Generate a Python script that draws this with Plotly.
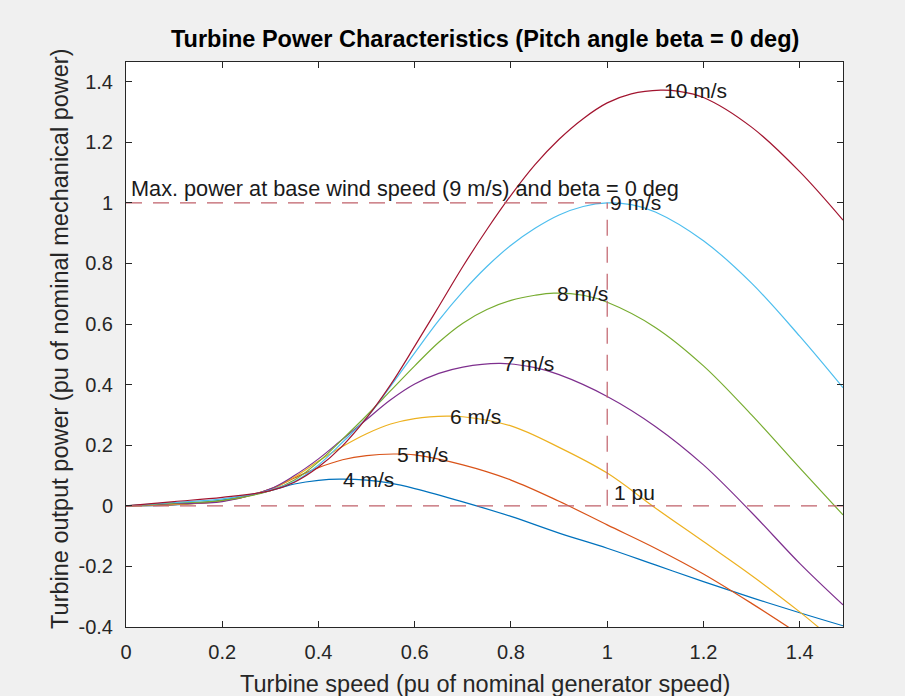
import numpy as np
import plotly.graph_objects as go

# Turbine output power (pu) versus turbine speed (pu), pitch angle beta = 0 deg
wind_labels = ["4 m/s", "5 m/s", "6 m/s", "7 m/s", "8 m/s", "9 m/s", "10 m/s"]
colors = ["#0072BD", "#D95319", "#EDB120", "#7E2F8E", "#77AC30", "#4DBEEE", "#A2142F"]

speed_4 = [0, 0.1, 0.2, 0.3, 0.35, 0.4, 0.444, 0.5, 0.55, 0.6, 0.7, 0.8, 0.9, 1.0, 1.1, 1.2, 1.3, 1.4, 1.49]
power_4 = [0, 0.003, 0.019, 0.05, 0.072, 0.084, 0.088, 0.085, 0.075, 0.057, 0.013, -0.035, -0.09, -0.14,
           -0.195, -0.25, -0.303, -0.353, -0.396]

speed_5 = [0, 0.1, 0.2, 0.3, 0.35, 0.4, 0.45, 0.5, 0.556, 0.6, 0.7, 0.8, 0.9, 1.0, 1.1, 1.2, 1.3, 1.4, 1.49]
power_5 = [0, 0.004, 0.016, 0.055, 0.092, 0.126, 0.152, 0.166, 0.171, 0.168, 0.135, 0.085, 0.015, -0.063,
           -0.14, -0.225, -0.322, -0.425, -0.52]

speed_6 = [0, 0.1, 0.2, 0.3, 0.35, 0.4, 0.45, 0.5, 0.55, 0.6, 0.667, 0.7, 0.8, 0.9, 1.0, 1.1, 1.2, 1.3, 1.4, 1.49]
power_6 = [0, 0.005, 0.015, 0.055, 0.095, 0.148, 0.196, 0.238, 0.27, 0.288, 0.296, 0.294, 0.264, 0.193, 0.108,
           -0.007, -0.118, -0.23, -0.35, -0.47]

speed_7 = [0, 0.1, 0.2, 0.3, 0.35, 0.4, 0.45, 0.5, 0.55, 0.6, 0.65, 0.7, 0.778, 0.85, 0.9, 1.0, 1.1, 1.2, 1.3,
           1.4, 1.49]
power_7 = [0, 0.007, 0.014, 0.056, 0.1, 0.155, 0.22, 0.285, 0.35, 0.402, 0.437, 0.458, 0.47, 0.456, 0.433, 0.361,
           0.262, 0.135, -0.022, -0.19, -0.327]

speed_8 = [0, 0.1, 0.2, 0.3, 0.35, 0.4, 0.45, 0.5, 0.55, 0.6, 0.65, 0.7, 0.75, 0.8, 0.85, 0.889, 0.95, 1.0, 1.1,
           1.2, 1.3, 1.4, 1.49]
power_8 = [0, 0.009, 0.018, 0.05, 0.085, 0.145, 0.22, 0.298, 0.38, 0.462, 0.54, 0.603, 0.648, 0.678, 0.695,
           0.702, 0.695, 0.672, 0.589, 0.462, 0.3, 0.125, -0.03]

speed_9 = [0, 0.1, 0.2, 0.3, 0.35, 0.4, 0.45, 0.5, 0.55, 0.6, 0.65, 0.7, 0.75, 0.8, 0.85, 0.9, 0.95, 1.0, 1.05,
           1.1, 1.2, 1.3, 1.4, 1.49]
power_9 = [0, 0.011, 0.023, 0.052, 0.08, 0.135, 0.21, 0.29, 0.395, 0.505, 0.612, 0.707, 0.79, 0.86, 0.916, 0.96,
           0.988, 1.0, 0.994, 0.97, 0.875, 0.735, 0.56, 0.39]

speed_10 = [0, 0.1, 0.2, 0.3, 0.35, 0.4, 0.45, 0.5, 0.55, 0.6, 0.65, 0.7, 0.75, 0.8, 0.85, 0.9, 0.95, 1.0, 1.05,
            1.111, 1.15, 1.2, 1.3, 1.4, 1.49]
power_10 = [0, 0.014, 0.028, 0.05, 0.078, 0.128, 0.198, 0.29, 0.4, 0.527, 0.658, 0.79, 0.912, 1.025, 1.126, 1.21,
            1.278, 1.33, 1.36, 1.372, 1.368, 1.348, 1.25, 1.103, 0.943]

speeds = [speed_4, speed_5, speed_6, speed_7, speed_8, speed_9, speed_10]
powers = [power_4, power_5, power_6, power_7, power_8, power_9, power_10]

# Reference lines: 1 pu power at base wind speed, 1 pu speed, and zero power
base_power_x = [0, 1.0]
base_power_y = [1.0, 1.0]
unit_speed_x = [1.0, 1.0]
unit_speed_y = [0, 1.0]
zero_x = [0, 1.49]
zero_y = [0, 0]

x_ticks = [0, 0.2, 0.4, 0.6, 0.8, 1.0, 1.2, 1.4]
x_tick_text = ["0", "0.2", "0.4", "0.6", "0.8", "1", "1.2", "1.4"]
y_ticks = [-0.4, -0.2, 0, 0.2, 0.4, 0.6, 0.8, 1.0, 1.2, 1.4]
y_tick_text = ["-0.4", "-0.2", "0", "0.2", "0.4", "0.6", "0.8", "1", "1.2", "1.4"]

FONT = "Liberation Sans, Arial, Helvetica, sans-serif"
AX = "#262626"
DASH_COLOR = "#C0606A"

fig = go.Figure()

for xs, ys, col, name in zip(speeds, powers, colors, wind_labels):
    fig.add_trace(go.Scatter(x=xs, y=ys, mode="lines", name=name,
                             line=dict(color=col, width=1.2, shape="spline", smoothing=1.0),
                             hoverinfo="skip"))

for xs, ys in [(base_power_x, base_power_y), (unit_speed_x, unit_speed_y), (zero_x, zero_y)]:
    fig.add_trace(go.Scatter(x=xs, y=ys, mode="lines",
                             line=dict(color=DASH_COLOR, width=1.2, dash="16px,11px"),
                             hoverinfo="skip"))

annotations = []
# wind speed label at the maximum of each curve
for xs, ys, name in zip(speeds, powers, wind_labels):
    k = int(np.argmax(ys))
    annotations.append(dict(x=xs[k], y=ys[k], xref="x", yref="y", text=name, showarrow=False,
                            xanchor="left", yanchor="middle", xshift=1,
                            font=dict(family=FONT, size=21, color="#1a1a1a")))

annotations.append(dict(x=base_power_x[0], y=base_power_y[0], xref="x", yref="y",
                        text="Max. power at base wind speed (9 m/s) and beta = 0 deg",
                        showarrow=False, xanchor="left", yanchor="bottom", xshift=3,
                        font=dict(family=FONT, size=21.7, color="#1a1a1a")))
annotations.append(dict(x=unit_speed_x[0], y=unit_speed_y[0], xref="x", yref="y", text="1 pu",
                        showarrow=False, xanchor="left", yanchor="bottom", xshift=5,
                        font=dict(family=FONT, size=21, color="#1a1a1a")))

# title and axis labels
annotations.append(dict(x=0.5, y=1.04, xref="paper", yref="paper",
                        text="<b>Turbine Power Characteristics (Pitch angle beta = 0 deg)</b>",
                        showarrow=False, xanchor="center", yanchor="middle",
                        font=dict(family=FONT, size=23.5, color="#000000")))
annotations.append(dict(x=0.5, y=-0.1, xref="paper", yref="paper",
                        text="Turbine speed (pu of nominal generator speed)",
                        showarrow=False, xanchor="center", yanchor="middle",
                        font=dict(family=FONT, size=23.5, color=AX)))
annotations.append(dict(x=-0.092, y=0.51, xref="paper", yref="paper",
                        text="Turbine output power (pu of nominal mechanical power)",
                        showarrow=False, xanchor="center", yanchor="middle", textangle=-90,
                        font=dict(family=FONT, size=23.5, color=AX)))

axis_common = dict(showgrid=False, zeroline=False, showline=True, linecolor=AX, linewidth=1,
                   mirror="allticks", ticks="inside", ticklen=6, tickwidth=1, tickcolor=AX,
                   tickfont=dict(family=FONT, size=20, color=AX))

fig.update_layout(
    width=905, height=696,
    margin=dict(l=126, r=62, t=62, b=69),
    paper_bgcolor="#f0f0f0", plot_bgcolor="#ffffff",
    showlegend=False,
    font=dict(family=FONT),
    xaxis=dict(range=[0, 1.49], tickvals=x_ticks, ticktext=x_tick_text, ticklabelstandoff=7,
               **axis_common),
    yaxis=dict(range=[-0.4, 1.465], tickvals=y_ticks, ticktext=y_tick_text, ticklabelstandoff=8,
               **axis_common),
    annotations=annotations,
)

fig.write_html("out.html")
